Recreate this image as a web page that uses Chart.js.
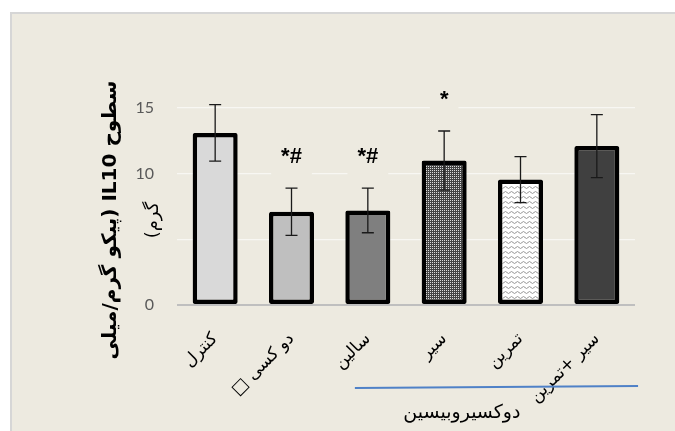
<!DOCTYPE html>
<html>
<head>
<meta charset="utf-8">
<script src="https://cdn.jsdelivr.net/npm/chart.js@4.4.1/dist/chart.umd.min.js"></script>
<style>
html, body { margin: 0; padding: 0; background: #fff; overflow: hidden; }
#frame { position: absolute; left: 10px; top: 12px; width: 670px; height: 425px; background: #edeae0; border-left: 2px solid #d6d6d6; border-top: 2px solid #d6d6d6; }
#wrap { position: absolute; left: 0; top: 0; width: 675px; height: 431px; }
</style>
</head>
<body>
<div id="frame"></div>
<div id="wrap"><canvas id="chart" width="675" height="431"></canvas></div>
<script>
// groups on the x axis
var groups = ['کنترل', 'دو کسی □\u200F', 'سالین', 'سیر', 'تمرین', 'سیر +تمرین'];
// mean IL10 (pg/ml) per group
var means = [13.1, 7.1, 7.2, 11.0, 9.55, 12.1];
// error bar half-length
var errors = [2.15, 1.8, 1.7, 2.25, 1.75, 2.4];
// significance marks above the bars
var marks = ['', '*#', '*#', '*', '', ''];
var yTicks = [0, 5, 10, 15];
var yTitle = ['سطوح IL10 (پیکو گرم/میلی', 'گرم)'];
var groupTitle = 'دوکسیروبیسین';

var BG = '#edeae0';

//build fill patterns for the two textured bars
function dotPattern() {
	var c = document.createElement('canvas');
	c.width = 2; c.height = 2;
	var g = c.getContext('2d');
	g.fillStyle = '#444444';
	g.fillRect(0, 0, 2, 2);
	g.fillStyle = '#dcdcdc';
	g.fillRect(0, 0, 1, 1);
	return g.createPattern(c, 'repeat');
}
function wavePattern() {
	var c = document.createElement('canvas');
	c.width = 6; c.height = 5;
	var g = c.getContext('2d');
	g.fillStyle = '#ffffff';
	g.fillRect(0, 0, 6, 5);
	g.strokeStyle = '#8c8c8c';
	g.lineWidth = 0.9;
	g.beginPath();
	g.moveTo(0, 2.5);
	g.quadraticCurveTo(1.5, 0.5, 3, 2.5);
	g.quadraticCurveTo(4.5, 4.5, 6, 2.5);
	g.stroke();
	return g.createPattern(c, 'repeat');
}

var fills = ['#d9d9d9', '#bfbfbf', '#7f7f7f', dotPattern(), wavePattern(), '#404040'];

var extras = {
	id: 'extras',
	afterDatasetsDraw: function(chart) {
		var ctx = chart.ctx;
		var xs = chart.scales.x, ys = chart.scales.y;
		ctx.save();
		//error bars
		ctx.strokeStyle = '#1a1a1a';
		ctx.lineWidth = 1.3;
		for (var i = 0; i < means.length; i++) {
			var px = xs.getPixelForValue(i);
			var top = ys.getPixelForValue(means[i] + errors[i]);
			var bot = ys.getPixelForValue(means[i] - errors[i]);
			ctx.beginPath();
			ctx.moveTo(px, top); ctx.lineTo(px, bot);
			ctx.moveTo(px - 6, top); ctx.lineTo(px + 6, top);
			ctx.moveTo(px - 6, bot); ctx.lineTo(px + 6, bot);
			ctx.stroke();
		}
		//significance marks, each on its own background box
		ctx.font = 'bold 22px "Liberation Sans"';
		ctx.textAlign = 'center';
		ctx.textBaseline = 'alphabetic';
		for (var j = 0; j < marks.length; j++) {
			if (!marks[j]) continue;
			var mx = xs.getPixelForValue(j);
			var my = ys.getPixelForValue(means[j] + errors[j]) - 25;
			var w = ctx.measureText(marks[j]).width + 20;
			ctx.fillStyle = BG;
			ctx.fillRect(mx - w / 2, my - 30, w, 42);
			ctx.fillStyle = '#000';
			ctx.fillText(marks[j], mx, my);
		}
		ctx.restore();
	},
	afterDraw: function(chart) {
		var ctx = chart.ctx;
		var area = chart.chartArea;
		var xs = chart.scales.x;
		ctx.save();
		//y axis title, two rotated lines
		var cy = area.top + 112;
		ctx.textAlign = 'center';
		ctx.textBaseline = 'middle';
		ctx.direction = 'rtl';
		ctx.fillStyle = BG;
		ctx.fillRect(area.left - 39, cy - 32, 30, 64);
		ctx.fillStyle = '#000';
		ctx.save();
		ctx.translate(area.left - 66, cy);
		ctx.rotate(-Math.PI / 2);
		ctx.font = 'bold 20px "DejaVu Sans"';
		ctx.fillText(yTitle[0], 0, 0);
		ctx.restore();
		ctx.save();
		ctx.translate(area.left - 24, cy);
		ctx.rotate(-Math.PI / 2);
		ctx.font = '18px "DejaVu Sans"';
		ctx.fillText(yTitle[1], 0, 0);
		ctx.restore();
		//bracket line under the doxorubicin groups
		ctx.strokeStyle = '#4f81c7';
		ctx.lineWidth = 2;
		ctx.beginPath();
		ctx.moveTo(xs.getPixelForValue(1.83), area.bottom + 83);
		ctx.lineTo(xs.getPixelForValue(5.54), area.bottom + 81);
		ctx.stroke();
		ctx.textAlign = 'right';
		ctx.font = '19px "DejaVu Sans"';
		ctx.fillStyle = '#000';
		ctx.fillText(groupTitle, xs.getPixelForValue(4.0), area.bottom + 108);
		ctx.restore();
	}
};

var chart = new Chart(document.getElementById('chart').getContext('2d'), {
	type: 'bar',
	data: {
		labels: groups,
		datasets: [{
			data: means,
			backgroundColor: fills,
			borderColor: '#000',
			borderWidth: 4.5,
			borderSkipped: false,
			borderRadius: 2,
			barPercentage: 0.59,
			categoryPercentage: 1
		}]
	},
	options: {
		responsive: false,
		animation: false,
		devicePixelRatio: 1,
		layout: { padding: { top: 108, right: 40, left: 0, bottom: 0 } },
		plugins: {
			legend: { display: false },
			tooltip: { enabled: false }
		},
		scales: {
			x: {
				grid: { display: false },
				border: { display: false },
				ticks: {
					autoSkip: false,
					minRotation: 45,
					maxRotation: 45,
					padding: 16,
					color: '#000',
					font: { family: 'DejaVu Sans', size: 17 }
				},
				afterFit: function(scale) { scale.height = 126; }
			},
			y: {
				min: 0,
				max: 15,
				afterBuildTicks: function(scale) {
					scale.ticks = yTicks.map(function(v) { return { value: v }; });
				},
				grid: {
					drawTicks: false,
					color: function(c) { return c.tick && c.tick.value === 0 ? '#bfbfbf' : '#f8f7f3'; },
					lineWidth: function(c) { return c.tick && c.tick.value === 0 ? 2 : 1.2; }
				},
				border: { display: false },
				ticks: {
					padding: 23,
					color: '#595959',
					font: { family: 'Lato', size: 16 }
				},
				afterFit: function(scale) { scale.width = 177; }
			}
		}
	},
	plugins: [extras]
});
</script>
</body>
</html>
